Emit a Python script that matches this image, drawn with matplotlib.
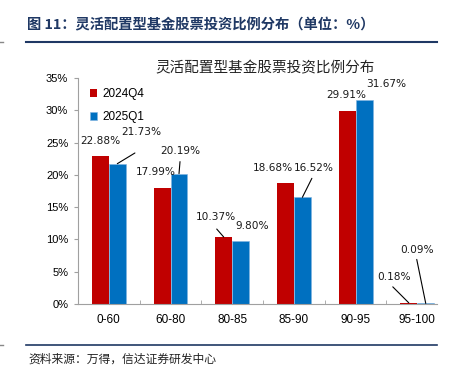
import matplotlib
matplotlib.use('Agg')
import matplotlib.pyplot as plt
import numpy as np

plt.rcParams['font.family'] = ['Liberation Sans', 'Noto Sans CJK SC', 'DejaVu Sans']

categories = ['0-60', '60-80', '80-85', '85-90', '90-95', '95-100']
q4_2024 = [22.88, 17.99, 10.37, 18.68, 29.91, 0.18]
q1_2025 = [21.73, 20.19, 9.80, 16.52, 31.67, 0.09]
series_names = ['2024Q4', '2025Q1']
yticks = [0, 5, 10, 15, 20, 25, 30, 35]

red = '#C00000'
blue = '#0070C0'
navy = '#1F3864'

W, H = 450, 372
fig = plt.figure(figsize=(W / 100, H / 100), dpi=100)
fig.set_facecolor('white')

# axes placed in pixel terms of the reference
left, right, top, bottom = 78, 437, 78, 304
ax = fig.add_axes([left / W, 1 - bottom / H, (right - left) / W, (bottom - top) / H])

x = np.arange(len(categories))
bw = 0.275
b1 = ax.bar(x - bw / 2, q4_2024, bw, color=red, label=series_names[0], zorder=2)
b2 = ax.bar(x + bw / 2, q1_2025, bw, color=blue, label=series_names[1],
            edgecolor='#7FB2E0', linewidth=0.4, zorder=2)

ax.set_xlim(-0.5, 5.32)
ax.set_ylim(0, 35)
ax.set_yticks(yticks)
ax.set_yticklabels([f'{t}%' for t in yticks], fontsize=8)
ax.set_xticks(x)
ax.set_xticklabels(categories, fontsize=8.5)
ax.tick_params(axis='x', length=0, pad=7)
ax.set_xticks(np.arange(0.5, 5.5, 1), minor=True)
ax.tick_params(axis='x', which='minor', direction='in', length=3, color='#A0A0A0')
ax.tick_params(axis='y', length=3, color='#A0A0A0', pad=4)
for s in ['top', 'right']:
    ax.spines[s].set_visible(False)
for s in ['left', 'bottom']:
    ax.spines[s].set_color('#A0A0A0')
    ax.spines[s].set_linewidth(0.8)

leg = ax.legend(loc='upper left', bbox_to_anchor=(0.02, 0.975), frameon=False,
                handlelength=0.6, handleheight=0.6, handletextpad=0.5,
                labelspacing=0.9, fontsize=8.5, borderaxespad=0)

# value labels: offsets from bar top in px (dx, dy up), leader end offsets
px = 0.72
red_lbl = [(0, 15, None), (-6, 16, None), (-8, 20, (-7, 8)),
           (-12, 15, None), (-1, 16, None), (-15, 26, (-16, 16))]
blue_lbl = [(24, 32, (17.6, 10.7)), (1, 23, (1, 12)), (11, 15, None),
            (11, 29, (9.5, 19)), (22, 15.5, None), (-9, 53, (-9, 44))]

def label_bars(xs, vals, specs):
    for xi, v, (dx, dy, lead) in zip(xs, vals, specs):
        ax.annotate(f'{v:.2f}%', xy=(xi, v), xytext=(dx * px, dy * px),
                    textcoords='offset points', ha='center', va='center',
                    fontsize=7.6, family='DejaVu Sans', color='#1a1a1a')
        if lead is not None:
            ax.annotate('', xy=(xi, v), xytext=(lead[0] * px, lead[1] * px),
                        textcoords='offset points',
                        arrowprops=dict(arrowstyle='-', lw=0.8, color='black',
                                        shrinkA=0, shrinkB=0))

label_bars(x - bw / 2, q4_2024, red_lbl)
label_bars(x + bw / 2, q1_2025, blue_lbl)

# chart title
fig.text(265 / W, 1 - 68 / H, '灵活配置型基金股票投资比例分布', ha='center', va='center',
         fontsize=10.5, family=['Noto Sans CJK SC'], color='#222222')

# report header and footer
fig.text(27 / W, 1 - 25 / H, '图 11：灵活配置型基金股票投资比例分布（单位：%）',
         ha='left', va='center', fontsize=10.3, fontweight='bold',
         family=['Noto Sans CJK SC'], color=navy)
fig.add_artist(plt.Line2D([26 / W, 437 / W], [1 - 42 / H, 1 - 42 / H], color=navy, lw=1.5))
fig.add_artist(plt.Line2D([26 / W, 437 / W], [1 - 345 / H, 1 - 345 / H], color=navy, lw=1.2))
fig.add_artist(plt.Line2D([0, 3 / W], [1 - 42 / H, 1 - 42 / H], color='#888888', lw=1))
fig.add_artist(plt.Line2D([0, 3 / W], [1 - 345 / H, 1 - 345 / H], color='#888888', lw=1))
fig.text(28 / W, 1 - 359 / H, '资料来源：万得，信达证券研发中心', ha='left', va='center',
         fontsize=8.5, style='italic', family=['Noto Sans CJK SC'], color='#222222')

fig.savefig('out.png', dpi=100)
